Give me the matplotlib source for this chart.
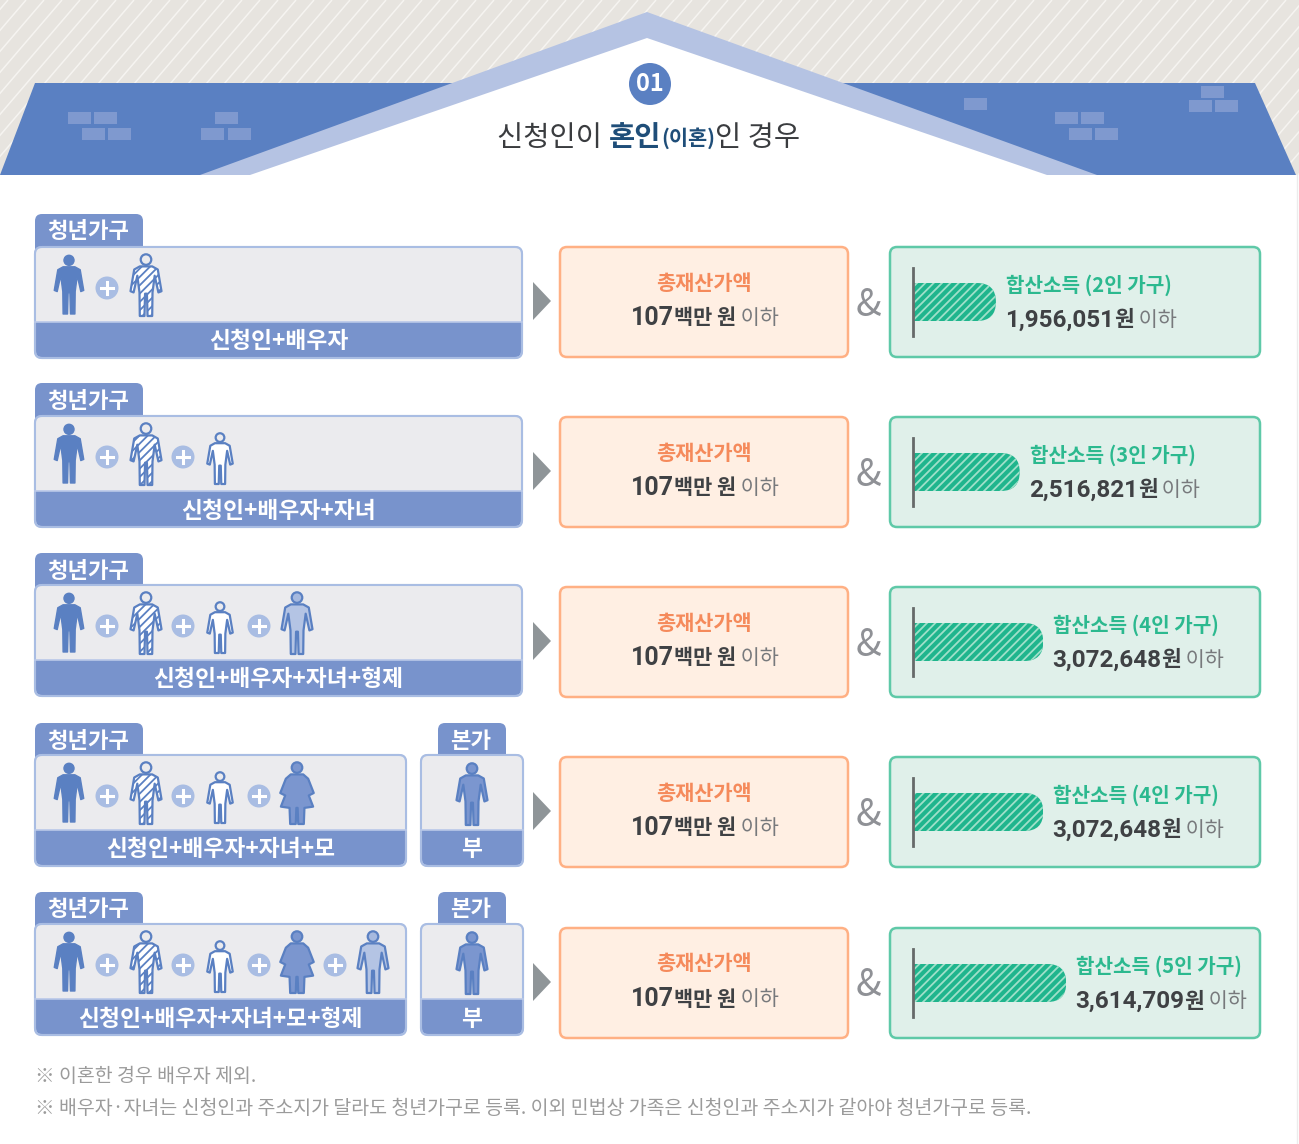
import matplotlib
matplotlib.use("Agg")
import matplotlib.pyplot as plt
from matplotlib.patches import FancyBboxPatch, Polygon, Circle, Rectangle
from matplotlib.collections import LineCollection

plt.rcParams['font.family'] = ['Noto Sans CJK KR', 'DejaVu Sans']
plt.rcParams['hatch.linewidth'] = 1.3

# ---- data ----
household_labels = ['신청인+배우자', '신청인+배우자+자녀', '신청인+배우자+자녀+형제',
                    '신청인+배우자+자녀+모', '신청인+배우자+자녀+모+형제']
family_members = [['app', 'spouse'],
                  ['app', 'spouse', 'child'],
                  ['app', 'spouse', 'child', 'sib'],
                  ['app', 'spouse', 'child', 'mom'],
                  ['app', 'spouse', 'child', 'mom', 'sib']]
parent_house = [None, None, None, '부', '부']
household_sizes = [2, 3, 4, 4, 5]
income_won = [1956051, 2516821, 3072648, 3072648, 3614709]
asset_million = [107, 107, 107, 107, 107]
notes = ['※ 이혼한 경우 배우자 제외.',
         '※ 배우자·자녀는 신청인과 주소지가 달라도 청년가구로 등록. 이외 민법상 가족은 신청인과 주소지가 같아야 청년가구로 등록.']

# ---- style ----
ROOF = '#5a80c2'; BAND = '#b5c3e3'; BRICK = '#7f99cf'; SKY = '#e7e4df'
STRIP = '#7893cc'; PANEL = '#ebebee'; BORDER = '#a9bde3'
OR_F = '#ffefe3'; OR_E = '#ffb084'; OR_T = '#f58a5b'
GR_F = '#e0f0ea'; GR_E = '#5fc9a8'; GR_T = '#2cb98f'; GR_B = '#1fb58d'
DARK = '#3f4144'; GREY = '#77797c'
PX_PER_WON = 42.4e-6

fig = plt.figure(figsize=(12.99, 11.44), dpi=100)
ax = fig.add_axes([0, 0, 1, 1])
ax.set_xlim(0, 1299); ax.set_ylim(1144, 0); ax.axis('off')


def rbox(x0, y0, x1, y1, fc, ec='none', lw=0, r=6, z=2):
    p = FancyBboxPatch((x0, y0), x1 - x0, y1 - y0, boxstyle=f'round,pad=0,rounding_size={r}',
                       fc=fc, ec=ec, lw=lw, zorder=z)
    ax.add_patch(p)
    return p


def pieces(x, y, parts, center=False):
    """parts: (text, size, weight, colour[, family]) placed one after the other."""
    r = fig.canvas.get_renderer()
    arts = []
    cur = x
    for part in parts:
        s, size, w, c = part[:4]
        kw = {'family': [part[4], 'Noto Sans CJK KR']} if len(part) > 4 else {}
        t = ax.text(cur, y, s, fontsize=size, fontweight=w, color=c, va='center', ha='left', zorder=6, **kw)
        wd = t.get_window_extent(r).width
        if s.startswith(' '):
            wd += size * 0.3
        arts.append((t, cur))
        cur += wd
    if center:
        shift = (cur - x) / 2
        for t, c0 in arts:
            t.set_x(c0 - shift)


# ---- sky and roof ----
sky = Rectangle((0, 0), 1299, 175, fc=SKY, ec='none', zorder=0)
ax.add_patch(sky)
segs = [[(x, 175), (x + 150, 0)] for x in range(-160, 1299, 18)]
lc = LineCollection(segs, colors='#f6f4f1', linewidths=1.1, zorder=0.5)
ax.add_collection(lc)
lc.set_clip_path(sky)
ax.add_patch(Polygon([(0, 175), (35, 83), (470, 83), (800, 83), (1255, 83), (1296, 175)],
                     fc=ROOF, ec='none', zorder=1))
ax.add_patch(Polygon([(647, 12), (1097, 175), (200, 175)], fc=BAND, ec='none', zorder=1.2))
ax.add_patch(Polygon([(647, 38), (1047, 175), (250, 175)], fc='white', ec='none', zorder=1.3))
ax.add_patch(Rectangle((0, 175), 1299, 969, fc='white', ec='none', zorder=1.4))
ax.plot([1297, 1297], [175, 1144], color='#ececec', lw=1, zorder=1.5)
bricks = [(68, 112), (94, 112), (82, 128), (108, 128), (215, 112), (201, 128), (228, 128),
          (964, 98), (1055, 112), (1081, 112), (1069, 128), (1095, 128),
          (1201, 86), (1189, 100), (1215, 100)]
for bx, by in bricks:
    ax.add_patch(Rectangle((bx, by), 23, 12, fc=BRICK, ec='none', zorder=1.35))

ax.add_patch(Circle((650, 84), 21, fc=ROOF, ec='none', zorder=3))
ax.text(650, 84, '01', color='white', fontsize=17, fontweight='bold', ha='center', va='center', zorder=4)
pieces(497, 138, [('신청인이 ', 20.5, 'normal', '#3a3c3f'), ('혼인', 20.5, 'bold', '#1f4e79'),
                  ('(이혼)', 15, 'bold', '#1f4e79'), ('인 경우', 20.5, 'normal', '#3a3c3f')])


# ---- people ----
MALE = [(-.10, .2), (.10, .2), (.19, .25), (.25, .6), (.2, .62), (.14, .35), (.105, .62), (.1, 1),
        (.025, 1), (.015, .64), (-.015, .64), (-.025, 1), (-.1, 1), (-.105, .62), (-.14, .35),
        (-.2, .62), (-.25, .6), (-.19, .25)]
DRESS = [(-.10, .2), (.10, .2), (.18, .27), (.27, .5), (.19, .54), (.26, .72), (.12, .74), (.11, 1),
         (.02, 1), (.01, .74), (-.01, .74), (-.02, 1), (-.11, 1), (-.12, .74), (-.26, .72),
         (-.19, .54), (-.27, .5), (-.18, .27)]
STYLES = {
    'app': dict(poly=MALE, fc=ROOF, ec=ROOF, hatch=None, top=8, h=59, hc=ROOF, lw=1.0),
    'spouse': dict(poly=MALE, fc='white', ec=ROOF, hatch='////', top=7, h=62, hc='none', lw=1.6),
    'child': dict(poly=MALE, fc='white', ec=ROOF, hatch=None, top=17, h=51, hc='none', lw=1.6),
    'sib': dict(poly=MALE, fc='#b4c4e4', ec=ROOF, hatch=None, top=7, h=62, hc='#a6b9df', lw=1.6),
    'mom': dict(poly=DRESS, fc='#7b96cf', ec=ROOF, hatch=None, top=7, h=62, hc='#7b96cf', lw=1.6),
    'dad': dict(poly=MALE, fc='#7b96cf', ec=ROOF, hatch=None, top=8, h=62, hc='#7b96cf', lw=1.6),
}


def person(cx, row_top, kind):
    s = STYLES[kind]
    t, h = row_top + s['top'], s['h']
    pts = [(cx + a * h, t + b * h) for a, b in s['poly']]
    ax.add_patch(Polygon(pts, closed=True, fc=s['fc'], ec=s['ec'], lw=s['lw'], joinstyle='round',
                         hatch=s['hatch'], zorder=4))
    ax.add_patch(Circle((cx, t + .09 * h), .085 * h, fc=s['hc'], ec=s['ec'], lw=s['lw'], zorder=4))


def plus(cx, cy):
    ax.add_patch(Circle((cx, cy), 11.5, fc=BORDER, ec='none', zorder=4))
    ax.plot([cx - 6, cx + 6], [cy, cy], color='white', lw=2.2, zorder=5)
    ax.plot([cx, cx], [cy - 6, cy + 6], color='white', lw=2.2, zorder=5)


def panel(x0, x1, top, tab_x0, tab_x1, tab_top, tab_text, bottom_text):
    rbox(tab_x0, tab_top, tab_x1, top + 8, STRIP, r=7, z=2)
    ax.text((tab_x0 + tab_x1) / 2 - 1, tab_top + 18, tab_text, color='white', fontsize=16,
            fontweight='bold', ha='center', va='center', zorder=6)
    outer = rbox(x0, top, x1, top + 111, STRIP, ec=BORDER, lw=1.5, r=7, z=2.5)
    g = Rectangle((x0, top), x1 - x0, 75, fc=PANEL, ec='none', zorder=2.6)
    ax.add_patch(g)
    g.set_clip_path(outer)
    ax.add_patch(FancyBboxPatch((x0, top), x1 - x0, 111, boxstyle='round,pad=0,rounding_size=7',
                                fc='none', ec=BORDER, lw=1.5, zorder=2.7))
    ax.plot([x0, x1], [top + 75, top + 75], color='#b9c8e8', lw=1.2, zorder=2.8)
    ax.text((x0 + x1) / 2, top + 95, bottom_text, color='white', fontsize=16.4, fontweight='bold',
            ha='center', va='center', zorder=6)


XS = [69, 146, 220, 297, 373]
PS = [107, 183, 259, 335]
rows_top = [247, 416, 585, 755, 924]
tabs_top = [214, 383, 553, 723, 892]
card_top = [247, 417, 587, 757, 928]

for i, top in enumerate(rows_top):
    wide = parent_house[i] is None
    panel(35, 522 if wide else 406, top, 35, 143, tabs_top[i], '청년가구', household_labels[i])
    for j, kind in enumerate(family_members[i]):
        person(XS[j], top, kind)
        if j:
            plus(PS[j - 1], top + 41)
    if not wide:
        panel(421, 523, top, 438, 506, tabs_top[i], '본가', parent_house[i])
        person(472, top, 'dad')

    c = card_top[i]
    ax.add_patch(Polygon([(533, c + 35), (533, c + 73), (551, c + 54)], fc='#8f9598', ec='none', zorder=3))
    # asset card
    rbox(560, c, 848, c + 110, OR_F, OR_E, 1.8, r=7)
    ax.text(704, c + 36, '총재산가액', color=OR_T, fontsize=15, fontweight='bold', ha='center', va='center', zorder=6)
    pieces(707, c + 71, [(str(asset_million[i]), 18, 'bold', DARK, 'Roboto'), ('백만 원', 15, 'bold', DARK),
                         (' 이하', 15, 'normal', GREY)], center=True)
    ax.text(868, c + 58, '&', color='#8f9196', fontsize=27, ha='center', va='center', zorder=6)

    # income card
    rbox(890, c, 1260, c + 110, GR_F, GR_E, 1.8, r=7)
    width = income_won[i] * PX_PER_WON
    bar = ax.barh(c + 55, width, left=913, height=38, color=GR_B, edgecolor='#9fe0c9', lw=0,
                  hatch='////', zorder=4)[0]
    clip = FancyBboxPatch((873, c + 36), 40 + width, 38, boxstyle='round,pad=0,rounding_size=19',
                          fc='none', ec='none', transform=ax.transData)
    ax.add_patch(clip)
    bar.set_clip_path(clip)
    ax.plot([913, 913], [c + 21, c + 89], color='#666a6a', lw=2, zorder=5)
    tx = 913 + width + 11
    ax.text(tx - 1, c + 38, f'합산소득 ({household_sizes[i]}인 가구)', color=GR_T, fontsize=14.5,
            fontweight='bold', ha='left', va='center', zorder=6)
    pieces(tx - 2, c + 73, [(f'{income_won[i]:,}', 17.5, 'bold', DARK, 'Roboto'), ('원', 15.5, 'bold', DARK),
                            (' 이하', 15, 'normal', GREY)])

ax.text(35, 1077, notes[0], color='#9b9b9b', fontsize=14, ha='left', va='center', zorder=6)
ax.text(35, 1109, notes[1], color='#9b9b9b', fontsize=14, ha='left', va='center', zorder=6)

fig.savefig('out.png', dpi=100)
